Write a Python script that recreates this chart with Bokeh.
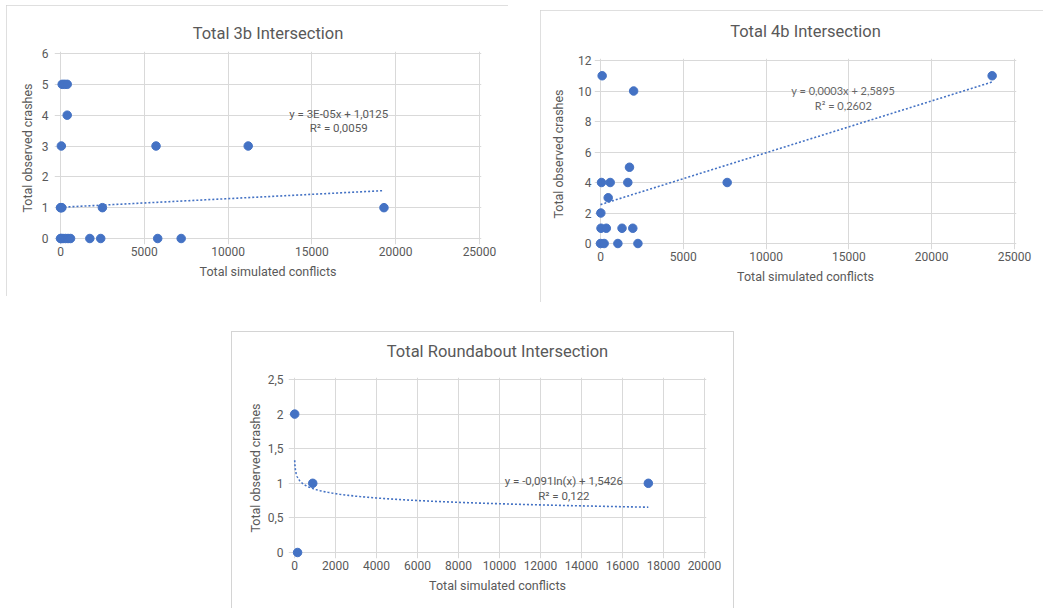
import numpy as np
from bokeh.plotting import figure
from bokeh.models import ColumnDataSource, FixedTicker, Range1d, Spacer, Title
from bokeh.layouts import column, row
from bokeh.core.properties import value
from bokeh.embed import file_html
from bokeh.resources import INLINE

# ---- data: Total 3b Intersection ----
x_3b = [100, 250, 400, 400, 50, 5700, 11200, 0, 30, 80, 2500, 19300,
        0, 50, 150, 300, 450, 600, 1750, 2400, 5800, 7200]
y_3b = [5, 5, 5, 4, 3, 3, 3, 1, 1, 1, 1, 1,
        0, 0, 0, 0, 0, 0, 0, 0, 0, 0]
trend_3b = (2.8e-05, 1.0125)
label_3b = ["y = 3E-05x + 1,0125", "R² = 0,0059"]

# ---- data: Total 4b Intersection ----
x_4b = [100, 2000, 1750, 60, 585, 1650, 7650, 465, 20, 30, 350, 1300, 1950,
        0, 220, 1050, 2260, 23650]
y_4b = [11, 10, 5, 4, 4, 4, 4, 3, 2, 1, 1, 1, 1,
        0, 0, 0, 0, 11]
trend_4b = (0.00034, 2.55)
label_4b = ["y = 0,0003x + 2,5895", "R² = 0,2602"]

# ---- data: Total Roundabout Intersection ----
x_rb = [10, 150, 890, 17260]
y_rb = [2, 0, 1, 1]
trend_rb = (-0.091, 1.5426)
label_rb = ["y = -0,091ln(x) + 1,5426", "R² = 0,122"]

x_ticks_ab = [0, 5000, 10000, 15000, 20000, 25000]
y_ticks_3b = [0, 1, 2, 3, 4, 5, 6]
y_ticks_4b = [0, 2, 4, 6, 8, 10, 12]
x_ticks_rb = [0, 2000, 4000, 6000, 8000, 10000, 12000, 14000, 16000, 18000, 20000]
y_ticks_rb = [0, 0.5, 1, 1.5, 2, 2.5]

BLUE = "#4472C4"
GREY = "#595959"
GRID = "#d9d9d9"
FONT = "Roboto"

PAD_L, PAD_R, PAD_T, PAD_B = 6, 2, 2, 6


def make_panel(title, xs, ys, xlim, ylim, xt, yt, w, h, box,
               trend_x, trend_y, labels, label_pos, label_font, label_size,
               label_color, title_gap, title_offset,
               x_std, x_lbl_std, y_std, y_lbl_std):
    left, right, top, bottom = box
    sx = (xlim[1] - xlim[0]) / (right - left)
    sy = (ylim[1] - ylim[0]) / (bottom - top)
    p = figure(width=w, height=h, output_backend="svg", toolbar_location=None,
               x_range=Range1d(xlim[0] - PAD_L * sx, xlim[1] + PAD_R * sx),
               y_range=Range1d(ylim[0] - PAD_B * sy, ylim[1] + PAD_T * sy),
               min_border_left=left - PAD_L, min_border_right=w - right - PAD_R,
               min_border_top=top - PAD_T, min_border_bottom=h - bottom - PAD_B)
    p.styles = {"outline": "1px solid #d4d4d4", "outline-offset": "-1px"}
    p.title.text = title
    p.title.align = "center"
    p.title.vertical_align = "bottom"
    p.title.text_font = FONT
    p.title.text_font_size = "16.5px"
    p.title.text_font_style = "normal"
    p.title.text_color = GREY
    p.title.standoff = 0
    p.title.offset = title_offset
    # spacer between title and plot area
    p.add_layout(Title(text=" ", text_font_size="1px", standoff=title_gap), "above")
    p.outline_line_color = None
    p.xaxis.ticker = FixedTicker(ticks=xt)
    p.yaxis.ticker = FixedTicker(ticks=yt)
    for ax in (p.xaxis, p.yaxis):
        ax.axis_line_color = None
        ax.major_tick_line_color = None
        ax.minor_tick_line_color = None
        ax.major_tick_out = 0
        ax.major_tick_in = 0
        ax.minor_tick_out = 0
        ax.minor_tick_in = 0
        ax.major_label_text_font = FONT
        ax.major_label_text_font_size = "12px"
        ax.major_label_text_color = GREY
        ax.axis_label_text_font = FONT
        ax.axis_label_text_font_size = "12.5px"
        ax.axis_label_text_font_style = "normal"
        ax.axis_label_text_color = GREY
    p.xaxis.axis_label = "Total simulated conflicts"
    p.yaxis.axis_label = "Total observed crashes"
    p.xaxis.major_label_standoff = x_std
    p.yaxis.major_label_standoff = y_std
    p.xaxis.axis_label_standoff = x_lbl_std
    p.yaxis.axis_label_standoff = y_lbl_std
    p.xgrid.grid_line_color = GRID
    p.ygrid.grid_line_color = GRID
    p.line(trend_x, trend_y, line_color=BLUE, line_width=1.6, line_dash="2 2")
    p.scatter(xs, ys, size=8.5, fill_color=BLUE, line_color=BLUE)
    src = ColumnDataSource(dict(x=label_pos[0], y=label_pos[1], t=labels))
    p.text(x="x", y="y", text="t", source=src, text_align="center",
           text_baseline="middle", text_font=value(label_font),
           text_font_size=label_size, text_color=label_color)
    return p


tx3 = np.linspace(min(x_3b), max(x_3b), 50)
p1 = make_panel("Total 3b Intersection", x_3b, y_3b, (0, 25000), (0, 6),
                x_ticks_ab, y_ticks_3b, 502, 291, (54, 473, 48, 233),
                tx3, trend_3b[0] * tx3 + trend_3b[1], label_3b,
                ([16600, 16600], [4.04, 3.57]), FONT, "11.5px", GREY,
                6, -5, 2, 5, 6, 4)

tx4 = np.linspace(min(x_4b), max(x_4b), 50)
p2 = make_panel("Total 4b Intersection", x_4b, y_4b, (0, 25000), (0, 12),
                x_ticks_ab, y_ticks_4b, 503, 292, (60, 474, 50, 233),
                tx4, trend_4b[0] * tx4 + trend_4b[1], label_4b,
                ([14660, 14660], [10.05, 9.06]), "Lato", "11px", "#666666",
                15, -15, 2, 5, 3, 9)

txr = np.geomspace(min(x_rb), max(x_rb), 200)
p3 = make_panel("Total Roundabout Intersection", x_rb, y_rb, (0, 20000), (0, 2.5),
                x_ticks_rb, y_ticks_rb, 503, 277, (63, 473, 48, 221),
                txr, trend_rb[0] * np.log(txr) + trend_rb[1], label_rb,
                ([13140, 13140], [1.03, 0.82]), FONT, "11.5px", GREY,
                14, -16, 2, 5, 5, 2)
p3.yaxis.major_label_overrides = {0.5: "0,5", 1.5: "1,5", 2.5: "2,5"}
p3.styles = {"box-shadow": "inset 1px 1px 0 #d4d4d4, inset -1px 0 0 #d4d4d4"}
p3.border_fill_color = None

layout = column(
    Spacer(height=5),
    row(Spacer(width=6), p1, Spacer(width=32),
        column(Spacer(height=5), p2, spacing=0), spacing=0),
    Spacer(height=29),
    row(Spacer(width=231), p3, spacing=0),
    spacing=0,
)

open("out.html", "w").write(file_html(layout, INLINE))
